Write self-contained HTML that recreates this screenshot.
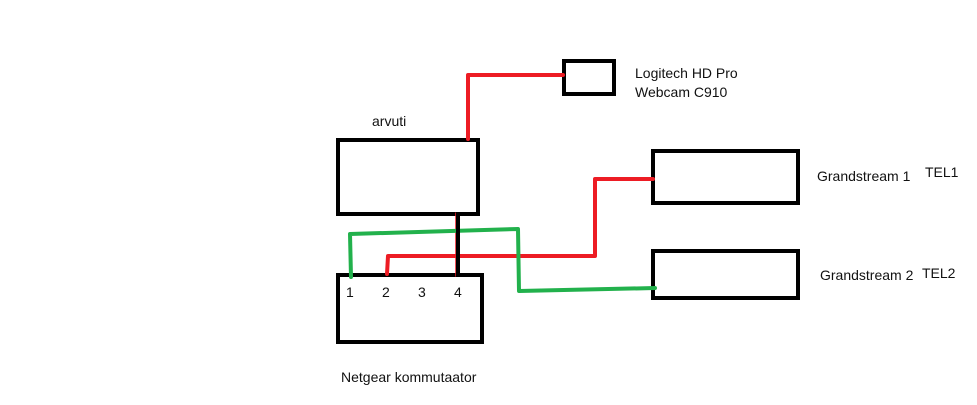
<!DOCTYPE html>
<html><head><meta charset="utf-8"><style>
html,body{margin:0;padding:0;background:#fff;}
svg{display:block;}
text{font-family:"Liberation Sans",sans-serif;font-size:14px;fill:#111;}
</style></head><body>
<svg width="977" height="405" viewBox="0 0 977 405" xmlns="http://www.w3.org/2000/svg">
<g fill="none" stroke="#000" stroke-width="4">
<rect x="338" y="140" width="140" height="74"/>
<rect x="564" y="61" width="50" height="33"/>
<rect x="653" y="151" width="145" height="52"/>
<rect x="653" y="251" width="145" height="47"/>
<rect x="338" y="275" width="144" height="67"/>
</g>
<g fill="none" stroke="#ed1c24" stroke-width="4" stroke-linejoin="round" stroke-linecap="round">
<polyline points="468,139 468,75 563,75"/>
<polyline points="387,274 388,256 595,256 595,179 653,179"/>
<line x1="456" y1="213" x2="456" y2="276" stroke-width="1.5"/>
</g>
<g fill="none" stroke="#22b14c" stroke-width="4" stroke-linejoin="round" stroke-linecap="round">
<polyline points="351,277 350,234 518,229 519,291 655,288"/>
</g>
<line x1="458" y1="212" x2="458" y2="277" stroke="#000" stroke-width="4"/>
<text x="372" y="126">arvuti</text>
<text x="635" y="78">Logitech HD Pro</text>
<text x="635" y="97">Webcam C910</text>
<text x="817" y="181">Grandstream 1</text>
<text x="925" y="177">TEL1</text>
<text x="820" y="280">Grandstream 2</text>
<text x="922" y="278">TEL2</text>
<text x="346" y="297">1</text>
<text x="382" y="297">2</text>
<text x="418" y="297">3</text>
<text x="454" y="297">4</text>
<text x="341" y="382">Netgear kommutaator</text>
</svg>
</body></html>
